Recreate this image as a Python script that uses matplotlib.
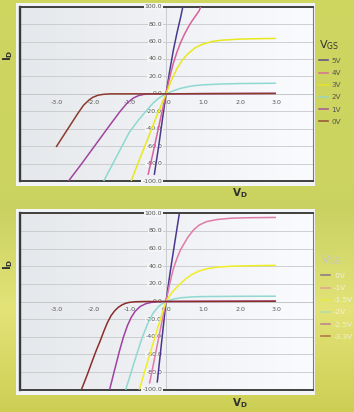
import numpy as np
import matplotlib
matplotlib.use("Agg")
import matplotlib.pyplot as plt
from matplotlib.patches import Rectangle
from matplotlib.lines import Line2D
from matplotlib.transforms import offset_copy

FONT = ["Liberation Sans Narrow", "DejaVu Sans"]
plt.rcParams["font.family"] = FONT
plt.rcParams["mathtext.fontset"] = "custom"
plt.rcParams["mathtext.rm"] = "Liberation Sans Narrow"
plt.rcParams["mathtext.bf"] = "Liberation Sans Narrow:bold"

# ---------------- data ----------------
x_ticks = [-3.0, -2.0, -1.0, 0.0, 1.0, 2.0, 3.0]
y_ticks = [-100, -80, -60, -40, -20, 0, 20, 40, 60, 80, 100]

top_labels = ["5V", "4V", "3V", "2V", "1V", "0V"]
top_colors = ["#4a3a8c", "#d9609c", "#e8e81a", "#8ed8d2", "#a0449e", "#8c3a2c"]

top_5v_x = [-0.32, -0.2, -0.1, 0.0, 0.1, 0.2, 0.3, 0.4, 0.46]
top_5v_y = [-93, -60, -30, 0, 26, 50, 70, 88, 100]
top_4v_x = [-0.49, -0.35, -0.2, -0.1, 0.0, 0.1, 0.2, 0.3, 0.4, 0.5, 0.6, 0.7, 0.8, 0.9, 0.95]
top_4v_y = [-93, -67, -38, -19, 0, 19, 35, 48, 59, 68, 76, 83, 89, 95, 100]
top_3v_x = [-0.95, -0.75, -0.5, -0.25, 0.0, 0.15, 0.3, 0.45, 0.6, 0.8, 1.0, 1.25, 1.5, 2.0, 2.5, 3.0]
top_3v_y = [-100, -78, -52, -25, 0, 16, 29, 39, 46, 53, 57, 60, 61.5, 62.8, 63.3, 63.6]
top_2v_x = [-1.7, -1.5, -1.25, -1.0, -0.75, -0.55, -0.35, -0.2, -0.1, 0.0, 0.2, 0.4, 0.6, 0.8, 1.0, 1.5, 2.0, 2.5, 3.0]
top_2v_y = [-100, -84, -64, -44, -30, -20, -10.5, -5, -2.2, 0, 3.5, 6.3, 8.2, 9.5, 10.3, 11.3, 11.8, 12.0, 12.2]
top_1v_x = [-2.66, -2.3, -1.9, -1.5, -1.25, -1.07, -0.9, -0.75, -0.6, -0.45, 0.0, 1.0, 3.0]
top_1v_y = [-100, -80, -57, -34, -20, -11, -5, -2, -0.6, -0.1, 0, 0.3, 0.5]
top_0v_x = [-3.0, -2.8, -2.6, -2.4, -2.25, -2.1, -2.0, -1.85, -1.7, -1.5, 0.0, 3.0]
top_0v_y = [-61, -48, -35, -22, -13, -7, -4, -1.5, -0.5, 0, 0, 0.5]

bot_labels = [" 0V", "-1V", "-1.5V", "-2V", "-2.5V", "-3.3V"]
bot_colors = ["#4a3590", "#e07aa8", "#eeee22", "#90d8d0", "#a040a0", "#8c2c2c"]

bot_0v_x = [-0.24, -0.12, 0.0, 0.12, 0.24, 0.365]
bot_0v_y = [-92, -46, 0, 35, 67, 100]
bot_m1_x = [-0.45, -0.3, -0.15, 0.0, 0.1, 0.2, 0.3, 0.4, 0.5, 0.6, 0.75, 0.9, 1.1, 1.4, 1.8, 2.3, 3.0]
bot_m1_y = [-93, -62, -31, 0, 20, 37, 49, 59, 66, 73, 81, 86.5, 90.5, 93, 94.5, 95, 95.3]
bot_m15_x = [-0.73, -0.5, -0.25, -0.1, 0.0, 0.1, 0.2, 0.3, 0.4, 0.55, 0.7, 0.9, 1.1, 1.4, 1.8, 2.4, 3.0]
bot_m15_y = [-100, -68, -33, -13, 0, 6.5, 12, 16.5, 20.5, 26, 30.5, 34.5, 37, 39, 40, 40.6, 41]
bot_m2_x = [-1.1, -0.95, -0.8, -0.65, -0.5, -0.35, -0.2, -0.1, 0.0, 0.2, 0.4, 0.7, 1.0, 2.0, 3.0]
bot_m2_y = [-100, -80, -60, -41, -25, -13, -5.5, -2.3, 0, 2.7, 4.2, 5.2, 5.6, 5.9, 6.0]
bot_m25_x = [-1.54, -1.4, -1.27, -1.16, -1.05, -0.95, -0.84, -0.7, -0.55, -0.4, -0.2, 0.0, 3.0]
bot_m25_y = [-100, -77, -56, -40, -27, -18, -11, -5.5, -2.5, -1, -0.3, 0, 0.4]
bot_m33_x = [-2.31, -2.15, -2.0, -1.9, -1.8, -1.7, -1.6, -1.5, -1.4, -1.3, -1.2, -1.1, -1.0, -0.85, -0.6, 0.0, 3.0]
bot_m33_y = [-100, -83, -66, -55, -45, -34, -24, -16, -10.5, -6.5, -3.8, -2, -1, -0.3, 0, 0, 0.3]

top_series = [(top_5v_x, top_5v_y), (top_4v_x, top_4v_y), (top_3v_x, top_3v_y),
              (top_2v_x, top_2v_y), (top_1v_x, top_1v_y), (top_0v_x, top_0v_y)]
bot_series = [(bot_0v_x, bot_0v_y), (bot_m1_x, bot_m1_y), (bot_m15_x, bot_m15_y),
              (bot_m2_x, bot_m2_y), (bot_m25_x, bot_m25_y), (bot_m33_x, bot_m33_y)]

# ---------------- figure ----------------
W, H = 354, 412
fig = plt.figure(figsize=(W / 100, H / 100), dpi=100)

# photographed page background (yellow-green)
bg = fig.add_axes([0, 0, 1, 1], zorder=-10)
stops = np.array([0.0, 0.45, 0.5, 0.75, 1.0])
cols = np.array([[0.81, 0.84, 0.38], [0.80, 0.83, 0.38], [0.79, 0.82, 0.38],
                 [0.89, 0.89, 0.47], [0.80, 0.81, 0.33]])
t = np.linspace(0, 1, 200)
grad = np.stack([np.interp(t, stops, cols[:, k]) for k in range(3)], axis=-1)
img = np.repeat(grad[:, None, :], 2, axis=1)
bg.imshow(img, aspect="auto", extent=[0, 1, 0, 1])
bg.axis("off")


def px_rect(x0, y0, x1, y1):
    return [x0 / W, 1 - y1 / H, (x1 - x0) / W, (y1 - y0) / H]


def make_panel(panel_box, ax_box, series, labels, colors, leg_anchor,
               title_color, label_color, handle_alpha, ylab_y, xlab_y):
    r = px_rect(*panel_box)
    fig.patches.append(Rectangle((r[0], r[1]), r[2], r[3], transform=fig.transFigure,
                                 facecolor="#f3f4f5", edgecolor="none", zorder=-5))
    ax = fig.add_axes(px_rect(*ax_box))
    g = np.linspace(0, 1, 100)
    pg = np.stack([0.90 + 0.08 * g, 0.91 + 0.075 * g, 0.925 + 0.07 * g], axis=-1)
    ax.imshow(np.repeat(pg[None, :, :], 2, axis=0), extent=[-4, 4, -100, 100],
              aspect="auto", zorder=0)
    ax.set_xlim(-4, 4)
    ax.set_ylim(-100, 100)
    ax.set_xticks([])
    ax.set_yticks(y_ticks)
    ax.tick_params(length=0, labelleft=False)
    ax.grid(axis="y", color="#c6c8ca", lw=0.6, zorder=1)
    ax.axvline(0, color="#c2c6ca", lw=0.6, zorder=1)
    ax.axhline(0, color="#b8babc", lw=0.6, zorder=1)
    ax.spines["left"].set_linewidth(1.7)
    ax.spines["left"].set_color("#3a3a3a")
    for s in ("top", "bottom"):
        ax.spines[s].set_linewidth(1.4)
        ax.spines[s].set_color("#404040")
    ax.spines["right"].set_linewidth(0.8)
    ax.spines["right"].set_color("#7a7a7a")

    ytr = offset_copy(ax.transData, fig=fig, x=-2.8, y=0, units="points")
    for v in y_ticks:
        ax.text(0, v, f"{v:.1f}", transform=ytr, ha="right", va="center",
                fontsize=4.5, color="#555555", zorder=3,
                bbox=dict(boxstyle="square,pad=0.15", fc="#f3f4f5", ec="none"))
    xtr = offset_copy(ax.transData, fig=fig, x=0.5, y=-6.0, units="points")
    for v in x_ticks:
        ax.text(v, 0, f"{v:.1f}", transform=xtr, ha="center", va="center",
                fontsize=4.5, color="#555555", zorder=3)

    for (xs, ys), c in zip(series, colors):
        ax.plot(xs, ys, color=c, lw=1.1, zorder=4, solid_capstyle="butt")

    handles = [Line2D([], [], color=c, lw=1.2, alpha=handle_alpha) for c in colors]
    leg = fig.legend(handles, labels, loc="upper left", bbox_to_anchor=leg_anchor,
                     frameon=False, fontsize=5.2, title=r"$\mathregular{V_{GS}}$",
                     title_fontsize=8, handlelength=1.3, handletextpad=0.4,
                     labelspacing=0.85, alignment="left", borderaxespad=0)
    leg.get_title().set_color(title_color)
    for tx in leg.get_texts():
        tx.set_color(label_color)

    fig.text(8 / W, 1 - ylab_y / H, r"$\mathbf{I_D}$", rotation=90, fontsize=7.5,
             ha="center", va="center", color="#303030")
    fig.text(240 / W, 1 - xlab_y / H, r"$\mathbf{V_D}$", fontsize=7.5,
             ha="center", va="center", color="#303030")
    return ax


make_panel((16, 3, 315, 186), (19.5, 6.7, 312.5, 181), top_series, top_labels,
           top_colors, (316 / W, 1 - 35 / H), "#333333", "#555555", 0.8, 55, 193)
make_panel((16, 209, 315, 395), (19.5, 213.3, 312.5, 389.7), bot_series, bot_labels,
           bot_colors, (318 / W, 1 - 250 / H), "#c8c9c0", "#f2f1dc", 0.55, 264, 403)

fig.savefig("out.png", dpi=100)
